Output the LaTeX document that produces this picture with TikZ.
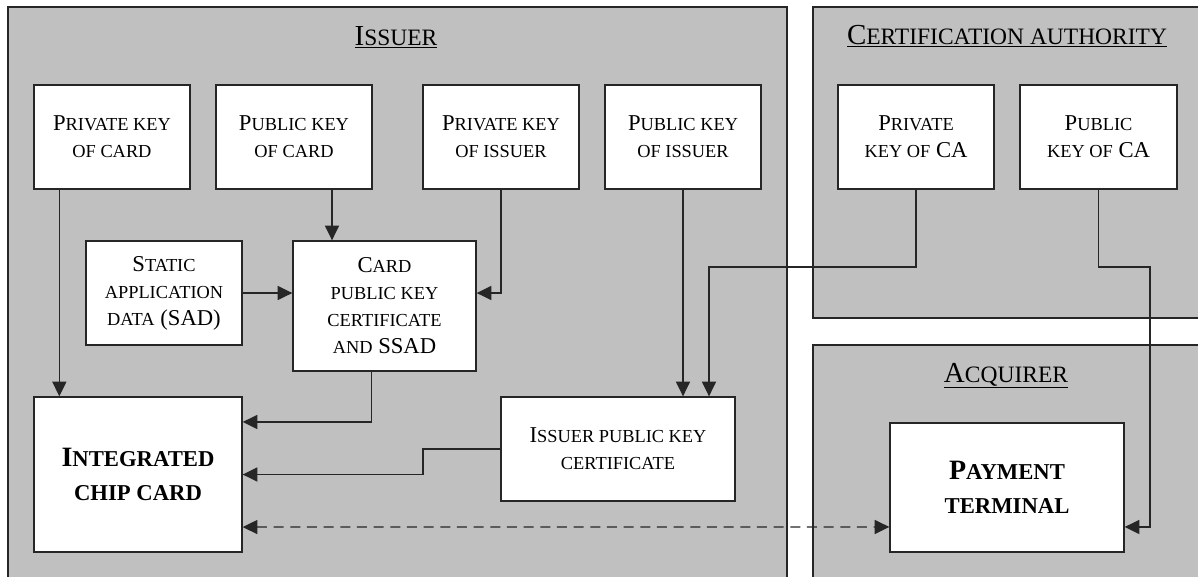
\documentclass[tikz,border=0pt]{standalone}
\usepackage{fontspec}
\setmainfont{Liberation Serif}
\usepackage{xcolor}
\usetikzlibrary{arrows.meta}
\definecolor{regiongray}{RGB}{192,192,192}
\definecolor{linegray}{RGB}{38,38,38}
\makeatletter
% small letters of the faked small caps
\newcommand{\lc}[1]{{\fontsize{\strip@pt\dimexpr\f@size pt*81/100\relax}{\f@baselineskip}\selectfont #1}}
\makeatother

\begin{document}
\begin{tikzpicture}[x=0.75pt,y=0.75pt,yscale=-1,xscale=1,
  region/.style={draw=linegray,fill=regiongray,line width=1pt},
  title/.style={anchor=base,inner sep=0.75pt,font=\fontsize{21.75}{26}\selectfont},
  keybox/.style={draw=linegray,fill=white,line width=1pt,align=center,inner sep=0pt,
    minimum width=117pt,minimum height=78pt,font=\fontsize{17}{20.25}\selectfont},
  bigbox/.style={keybox,font=\fontsize{21}{25.5}\selectfont\bfseries},
  arr/.style={draw=linegray,line width=1.05pt,-{Triangle[length=11pt,width=10.5pt]}},
  darr/.style={arr,{Triangle[length=11pt,width=10.5pt]}-{Triangle[length=11pt,width=10.5pt]},dash pattern=on 7.5pt off 5pt}]
\useasboundingbox (0,0) rectangle (1198,576);
\clip (0,0) rectangle (1198,576);

%Regions
\draw [region] (8,7) rectangle (787,600);
\draw [region] (813,7) rectangle (1215,318);
\draw [region] (813,345) rectangle (1215,600);

% Titles
\node [title] (issT) at (396,45) {\underline{I\lc{SSUER}}};
\node [title] (caT) at (1007,44) {\underline{C\lc{ERTIFICATION AUTHORITY}}};
\node [title] (acqT) at (1006,382) {\underline{A\lc{CQUIRER}}};

% Key boxes
\node [keybox] (pkcard) at (112,137) {P\lc{RIVATE KEY}\\\lc{OF CARD}};
\node [keybox] (pubcard) at (294,137) {P\lc{UBLIC KEY}\\\lc{OF CARD}};
\node [keybox] (pkiss) at (501,137) {P\lc{RIVATE KEY}\\\lc{OF ISSUER}};
\node [keybox] (pubiss) at (683,137) {P\lc{UBLIC KEY}\\\lc{OF ISSUER}};
\node [keybox] (pkca) at (916,137) {P\lc{RIVATE}\\\lc{KEY OF} CA};
\node [keybox,minimum width=117.75pt] (pubca) at (1098.5,137) {P\lc{UBLIC}\\\lc{KEY OF} CA};
\node [keybox] (sad) at (164,293) {S\lc{TATIC}\\\lc{APPLICATION}\\\lc{DATA} (SAD)};
\node [keybox,minimum width=137.25pt,minimum height=97.5pt] (cardcert) at (384.5,306) {C\lc{ARD}\\\lc{PUBLIC KEY}\\\lc{CERTIFICATE}\\\lc{AND} SSAD};
\node [keybox,minimum width=175.5pt] (isscert) at (618,449) {I\lc{SSUER PUBLIC KEY}\\\lc{CERTIFICATE}};

% Card and terminal
\node [bigbox,minimum width=156pt,minimum height=116.25pt] (icc) at (138,474.5) {I\lc{NTEGRATED}\\\lc{CHIP CARD}};
\node [bigbox,minimum width=175.5pt,minimum height=96.75pt] (terminal) at (1007,487.5) {P\lc{AYMENT}\\\lc{TERMINAL}};

% Bend points
\coordinate (a1) at ([xshift=19.5pt]pkcard.south west);
\coordinate (a2) at ([xshift=28.5pt]pubcard.south);
\coordinate (a5) at ([xshift=59.25pt]cardcert.south west);
\coordinate (k6) at (423,460);
\coordinate (k8) at (709,267);
\coordinate (k9) at (1150,267);

% Connectors
\draw [arr] (a1) -- (a1 |- icc.north);
\draw [arr] (a2) -- (a2 |- cardcert.north);
\draw [arr] (sad.east) -- (sad.east -| cardcert.west);
\draw [arr] (pkiss.south) |- (sad.east -| cardcert.east);
\draw [arr] (a5) |- ([yshift=-39.4pt]icc.east);
\draw [arr] (isscert.west) -| (k6) |- (icc.east);
\draw [arr] (pubiss.south) -- (pubiss.south |- isscert.north);
\draw [arr] (pkca.south) |- (k8) -- (k8 |- isscert.north);
\draw [arr] (pubca.south) |- (k9) |- ([yshift=29.6pt]terminal.east);
\draw [darr] ([yshift=39.4pt]icc.east) -- ([yshift=29.6pt]terminal.west);

\end{tikzpicture}
\end{document}
